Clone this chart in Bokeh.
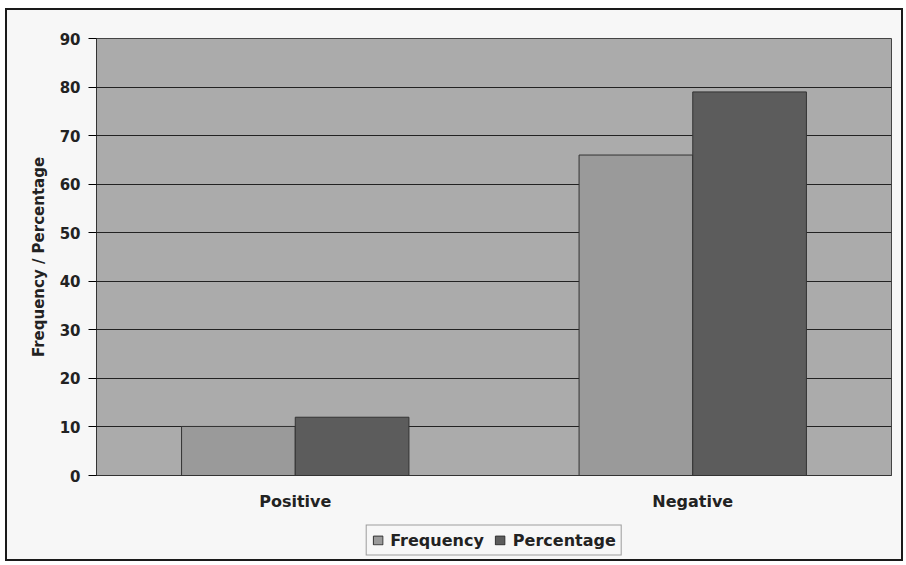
from bokeh.plotting import figure
from bokeh.models import ColumnDataSource, FactorRange, Legend, LegendItem, Range1d
from bokeh.layouts import column
from bokeh.transform import dodge
from bokeh.embed import file_html
from bokeh.resources import INLINE

categories = ["Positive", "Negative"]
frequency = [10.1, 66.0]
percentage = [12.0, 79.0]
y_ticks = [0, 10, 20, 30, 40, 50, 60, 70, 80, 90]

source = ColumnDataSource(data=dict(cat=categories, freq=frequency, pct=percentage))

FONT = "DejaVu Sans"
PAGE = "#f7f7f7"
FREQ_C = "#9a9a9a"
PCT_C = "#5c5c5c"
bw = 0.286

p = figure(
    x_range=FactorRange(*categories),
    y_range=(0, 90),
    width=894, height=510,
    output_backend="svg",
    toolbar_location=None,
    min_border_left=89, min_border_right=10, min_border_top=28, min_border_bottom=45,
    background_fill_color="#ababab",
    border_fill_color=PAGE,
)
p.x_range.range_padding = 0
p.x_range.group_padding = 0

p.vbar(x=dodge("cat", -bw / 2, range=p.x_range), top="freq", width=bw, source=source,
       fill_color=FREQ_C, line_color="#333333", line_width=1)
p.vbar(x=dodge("cat", bw / 2, range=p.x_range), top="pct", width=bw, source=source,
       fill_color=PCT_C, line_color="#333333", line_width=1)

p.outline_line_color = "#444444"
p.outline_line_width = 1

p.yaxis.ticker = y_ticks
p.yaxis.axis_label = "Frequency / Percentage"
p.yaxis.axis_label_text_font = FONT
p.yaxis.axis_label_text_font_style = "bold"
p.yaxis.axis_label_text_font_size = "15px"
p.yaxis.axis_label_text_color = "#222222"
p.yaxis.axis_label_standoff = 9
p.yaxis.major_label_text_font = FONT
p.yaxis.major_label_text_font_style = "bold"
p.yaxis.major_label_text_font_size = "15px"
p.yaxis.major_label_text_color = "#222222"
p.yaxis.major_tick_out = 8
p.yaxis.major_tick_in = 0
p.yaxis.minor_tick_line_color = None
p.yaxis.axis_line_color = "#333333"
p.yaxis.major_label_standoff = 8

p.xaxis.major_label_text_font = FONT
p.xaxis.major_label_text_font_style = "bold"
p.xaxis.major_label_text_font_size = "16px"
p.xaxis.major_label_text_color = "#222222"
p.xaxis.major_tick_line_color = None
p.xaxis.major_label_standoff = 10
p.xaxis.axis_line_color = "#333333"

p.xgrid.grid_line_color = None
p.ygrid.grid_line_color = "#222222"
p.ygrid.grid_line_width = 1

# Legend strip (a second figure whose bars lie outside its visible range)
p2 = figure(
    x_range=FactorRange(*categories),
    y_range=Range1d(1000, 1001),
    width=894, height=39,
    output_backend="svg",
    toolbar_location=None,
    min_border=0,
    background_fill_color=PAGE,
    border_fill_color=PAGE,
)
p2.axis.visible = False
p2.grid.visible = False
p2.outline_line_color = None
l1 = p2.vbar(x=dodge("cat", -bw / 2, range=p2.x_range), top="freq", width=bw, source=source,
             fill_color=FREQ_C, line_color="#333333", line_width=1)
l2 = p2.vbar(x=dodge("cat", bw / 2, range=p2.x_range), top="pct", width=bw, source=source,
             fill_color=PCT_C, line_color="#333333", line_width=1)

legend = Legend(
    items=[LegendItem(label="Frequency", renderers=[l1]),
           LegendItem(label="Percentage", renderers=[l2])],
    orientation="horizontal",
    location="center",
    label_text_font=FONT,
    label_text_font_style="bold",
    label_text_font_size="16px",
    label_text_color="#222222",
    glyph_width=12, glyph_height=11,
    label_standoff=7,
    spacing=10,
    padding=5,
    margin=0,
    border_line_color="#444444",
    border_line_width=1,
    background_fill_color=PAGE,
    background_fill_alpha=1.0,
)
p2.add_layout(legend, "center")

layout = column(p, p2, spacing=0)
layout.styles = {"border": "2px solid #1a1a1a", "margin-left": "5px", "margin-top": "8px",
                 "background-color": PAGE}

open("out.html", "w").write(file_html(layout, INLINE))
